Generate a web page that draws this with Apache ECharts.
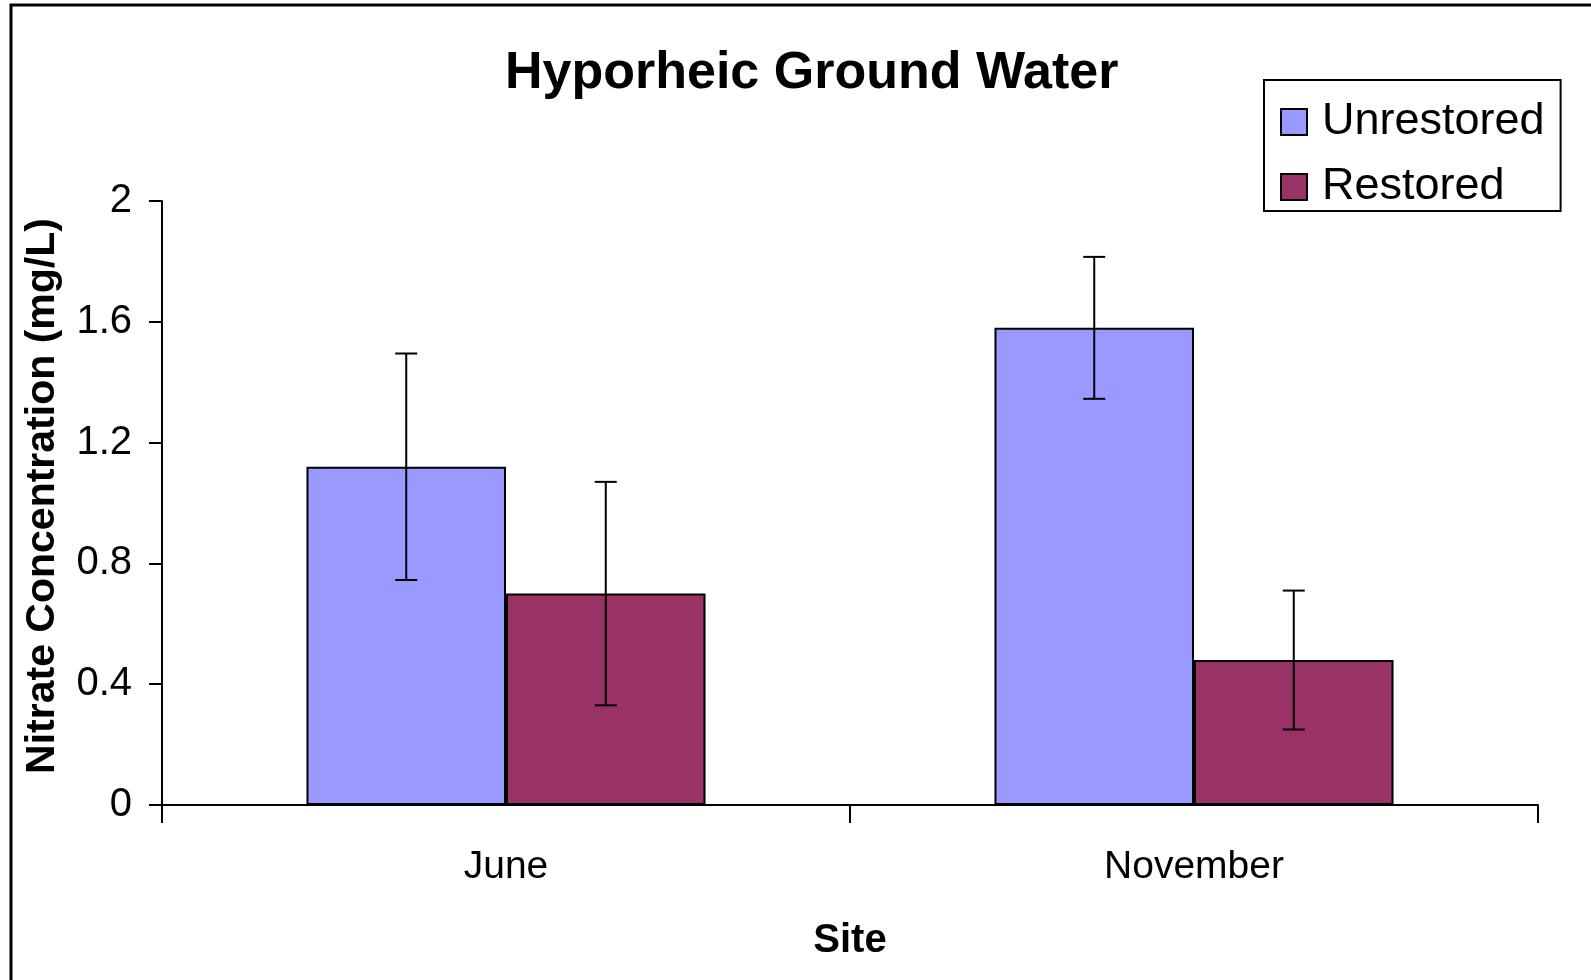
<!DOCTYPE html>
<html>
<head>
<meta charset="utf-8">
<title>Hyporheic Ground Water</title>
<script src="https://cdn.jsdelivr.net/npm/echarts@6/dist/echarts.min.js"></script>
<style>
  html, body { margin: 0; padding: 0; background: #fff; }
  #chart { width: 1591px; height: 980px; }
</style>
</head>
<body>
<div id="chart"></div>
<script>
// data
var categories = ["June", "November"];
var seriesNames = ["Unrestored", "Restored"];
var unrestored = [1.12, 1.58];
var restored = [0.70, 0.48];
var unrestoredErr = [0.375, 0.235];
var restoredErr = [0.37, 0.23];
var yTicks = [0, 0.4, 0.8, 1.2, 1.6, 2];

var FONT = "'Liberation Sans', Arial, sans-serif";
var gapPct = 42; // barCategoryGap in percent
var barShare = (1 - gapPct / 100) / 2; // share of a category band for one bar

// rows for the error bar series: [category, low, high, side]
var errRows = [];
for (var i = 0; i < categories.length; i++) {
  errRows.push([i, unrestored[i] - unrestoredErr[i], unrestored[i] + unrestoredErr[i], -1]);
  errRows.push([i, restored[i] - restoredErr[i], restored[i] + restoredErr[i], 1]);
}

function renderErr(params, api) {
  var cat = api.value(0);
  var lo = api.coord([cat, api.value(1)]);
  var hi = api.coord([cat, api.value(2)]);
  var band = api.size([1, 0])[0];
  var x = lo[0] + api.value(3) * band * barShare / 2;
  var cap = 11;
  var style = { stroke: "#000", lineWidth: 2 };
  return {
    type: "group",
    children: [
      { type: "line", shape: { x1: x, y1: hi[1], x2: x, y2: lo[1] }, style: style },
      { type: "line", shape: { x1: x - cap, y1: hi[1], x2: x + cap, y2: hi[1] }, style: style },
      { type: "line", shape: { x1: x - cap, y1: lo[1], x2: x + cap, y2: lo[1] }, style: style }
    ]
  };
}

var myChart = echarts.init(document.getElementById("chart"));

var option = {
  backgroundColor: "#fff",
  animation: false,
  color: ["#9999FF", "#993366"],
  title: {
    text: "Hyporheic Ground Water",
    left: 500,
    top: 43,
    textStyle: { fontFamily: FONT, fontSize: 52, fontWeight: "bold", color: "#000" }
  },
  graphic: [
    {
      type: "rect",
      shape: { x: 11, y: 5, width: 2000, height: 2000 },
      style: { fill: null, stroke: "#000", lineWidth: 3 },
      silent: true
    }
  ],
  legend: {
    orient: "vertical",
    left: 1264,
    top: 80,
    padding: [19, 16, 1, 16],
    itemGap: 19,
    itemWidth: 26,
    itemHeight: 26,
    borderColor: "#000",
    borderWidth: 2,
    backgroundColor: "#fff",
    icon: "rect",
    itemStyle: { borderColor: "#000", borderWidth: 2 },
    textStyle: { fontFamily: FONT, fontSize: 45, color: "#000", lineHeight: 46, padding: [0, 0, 0, 10] },
    data: seriesNames
  },
  grid: { left: 162, right: 53, top: 201, bottom: 175 },
  xAxis: {
    type: "category",
    data: categories,
    name: "Site",
    nameLocation: "middle",
    nameGap: 116,
    nameTextStyle: { fontFamily: FONT, fontSize: 40, fontWeight: "bold", color: "#000" },
    axisLine: { lineStyle: { color: "#000", width: 2 } },
    axisTick: { show: true, length: 18, lineStyle: { color: "#000", width: 2 } },
    axisLabel: { fontFamily: FONT, fontSize: 39, color: "#000", margin: 43 }
  },
  yAxis: {
    type: "value",
    min: yTicks[0],
    max: yTicks[yTicks.length - 1],
    interval: yTicks[1] - yTicks[0],
    name: "Nitrate Concentration (mg/L)",
    nameLocation: "middle",
    nameGap: 99,
    nameTextStyle: { fontFamily: FONT, fontSize: 41, fontWeight: "bold", color: "#000", padding: [0, 0, 0, 14] },
    axisLine: { show: true, lineStyle: { color: "#000", width: 2 } },
    axisTick: { show: true, length: 13, lineStyle: { color: "#000", width: 2 } },
    axisLabel: { fontFamily: FONT, fontSize: 40, color: "#000", margin: 30 },
    splitLine: { show: false }
  },
  series: [
    {
      name: seriesNames[0],
      type: "bar",
      data: unrestored,
      barGap: 0,
      barCategoryGap: gapPct + "%",
      itemStyle: { borderColor: "#000", borderWidth: 2 }
    },
    {
      name: seriesNames[1],
      type: "bar",
      data: restored,
      barGap: 0,
      barCategoryGap: gapPct + "%",
      itemStyle: { borderColor: "#000", borderWidth: 2 }
    },
    {
      name: "error",
      type: "custom",
      renderItem: renderErr,
      data: errRows,
      encode: { x: 0, y: [1, 2] },
      z: 10,
      silent: true
    }
  ]
};

myChart.setOption(option);
window.addEventListener("resize", function () { myChart.resize(); });
</script>
</body>
</html>
